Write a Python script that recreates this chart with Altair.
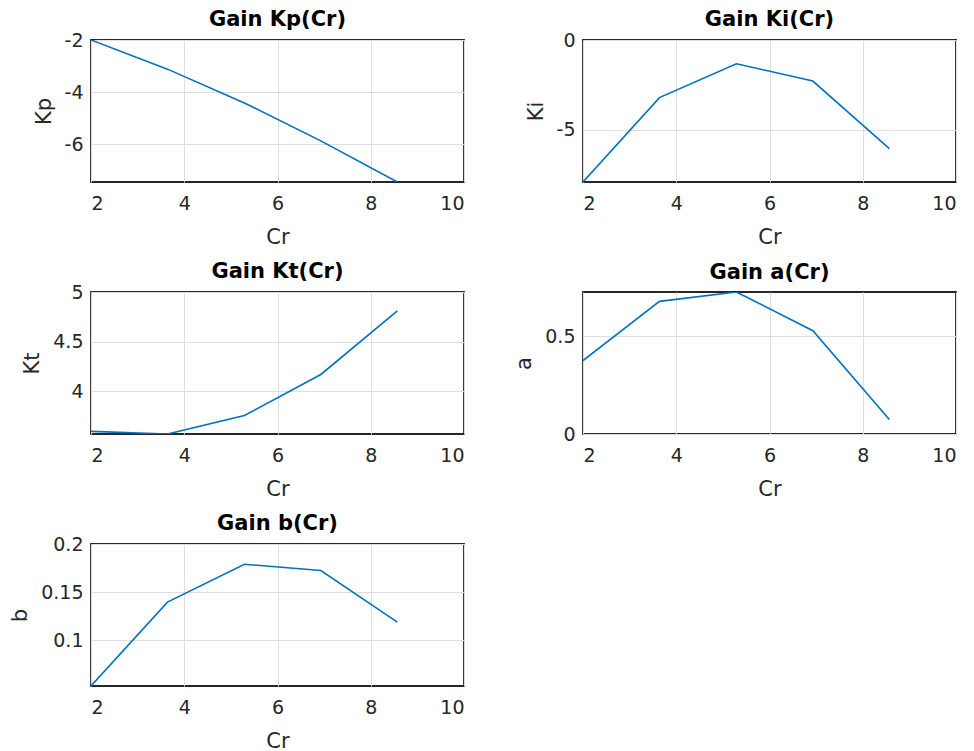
import altair as alt
import pandas as pd

# Data
cr = [2.0, 3.64, 5.29, 6.93, 8.57]
kp = [-2.0, -3.12, -4.42, -5.88, -7.46]
ki = [-7.89, -3.2, -1.32, -2.28, -6.04]
kt = [3.597, 3.571, 3.757, 4.17, 4.81]
a_vals = [0.376, 0.679, 0.727, 0.529, 0.074]
b_vals = [0.0527, 0.1397, 0.179, 0.1725, 0.119]

x_ticks = [2, 4, 6, 8, 10]

FONT = "DejaVu Sans"
TXT = "#262626"
W, H = 373, 142


def panel(yvals, title, ytitle, ydomain, yticks, toff):
    df = pd.DataFrame({"Cr": cr, "v": yvals})
    return (
        alt.Chart(
            df,
            title=alt.TitleParams(
                title, fontSize=21, fontWeight="bold", font=FONT,
                color="#000000", anchor="middle", offset=toff,
            ),
        )
        .mark_line(color="#0072BD", strokeWidth=1.6, clip=True)
        .encode(
            x=alt.X(
                "Cr:Q",
                scale=alt.Scale(domain=[2, 10], nice=False, zero=False),
                axis=alt.Axis(values=x_ticks, title="Cr",
                              labelExpr="'' + datum.value"),
            ),
            y=alt.Y(
                "v:Q",
                scale=alt.Scale(domain=ydomain, nice=False, zero=False),
                axis=alt.Axis(values=yticks, title=ytitle,
                              labelExpr="'' + datum.value"),
            ),
        )
        .properties(width=W, height=H)
    )


p1 = panel(kp, "Gain Kp(Cr)", "Kp", [-7.46, -2.0], [-6, -4, -2], 1)
p2 = panel(ki, "Gain Ki(Cr)", "Ki", [-7.89, 0.0], [-5, 0], 1)
p3 = panel(kt, "Gain Kt(Cr)", "Kt", [3.571, 5.0], [4, 4.5, 5], 1)
p4 = panel(a_vals, "Gain a(Cr)", "a", [0.0, 0.727], [0, 0.5], 9)
p5 = panel(b_vals, "Gain b(Cr)", "b", [0.0527, 0.2], [0.1, 0.15, 0.2], 1)

chart = (
    alt.concat(p1, p2, p3, p4, p5, columns=2,
               spacing={"row": 110, "column": 119}, bounds="flush")
    .properties(padding={"left": 0, "top": 0, "right": 5, "bottom": 2},
                background="white")
    .configure_view(stroke="#262626", strokeWidth=1.8)
    .configure_axis(
        grid=True,
        gridColor="#dedede",
        gridWidth=1,
        domain=False,
        ticks=False,
        labelFont=FONT,
        labelFontSize=19,
        labelColor=TXT,
        titleFont=FONT,
        titleFontSize=21,
        titleFontWeight="normal",
        titleColor=TXT,
    )
    .configure_axisX(labelPadding=12, titlePadding=13)
    .configure_axisY(labelPadding=8, titlePadding=10)
)

chart.save("out.html", embed_options={"renderer": "svg", "actions": False})
